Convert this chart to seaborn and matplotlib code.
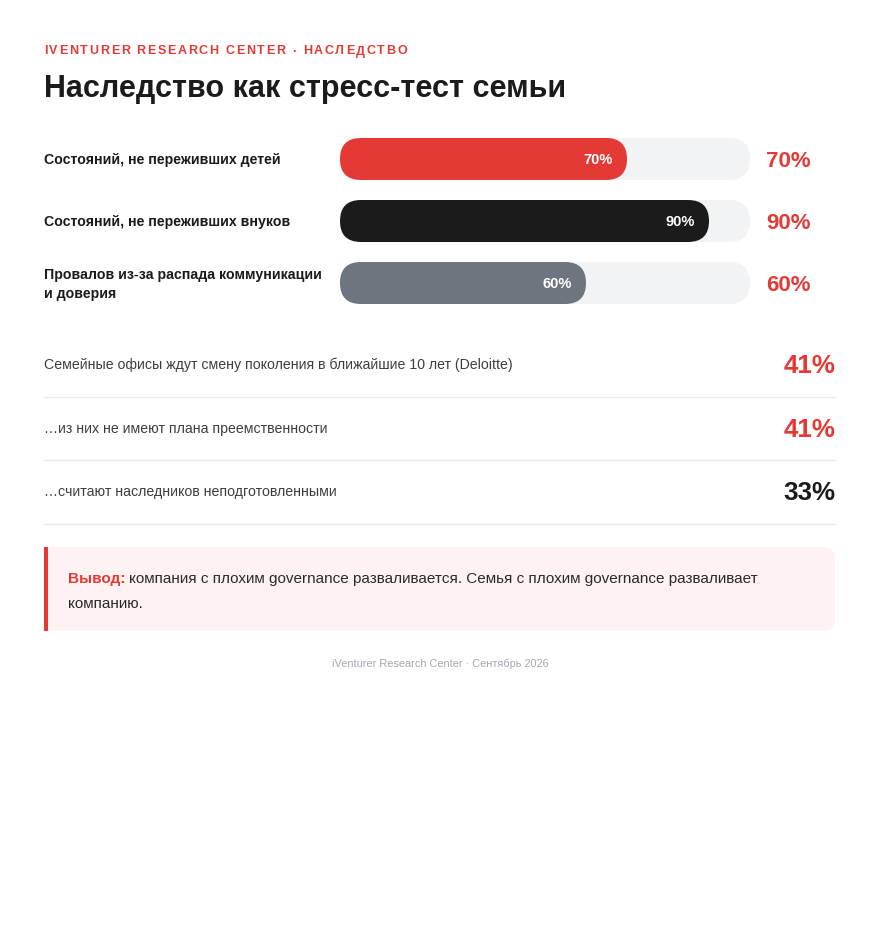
import matplotlib
matplotlib.use("Agg")
import matplotlib.pyplot as plt
import seaborn as sns
import pandas as pd
from matplotlib.patches import FancyBboxPatch, Rectangle

# --- data ---
bar_labels = [
    "Состояний, не переживших детей",
    "Состояний, не переживших внуков",
    "Провалов из-за распада коммуникации\nи доверия",
]
bar_values = [70, 90, 60]
bar_colors = ["#e53935", "#1b1b1b", "#6e757e"]

stat_texts = [
    "Семейные офисы ждут смену поколения в ближайшие 10 лет (Deloitte)",
    "…из них не имеют плана преемственности",
    "…считают наследников неподготовленными",
]
stat_values = ["41%", "41%", "33%"]

RED = "#e53935"
DARK = "#1b1b1b"
TRACK = "#f2f3f5"

sns.set_theme(style="white")
plt.rcParams["font.family"] = ["Liberation Sans", "DejaVu Sans"]

W, H = 880, 940
fig = plt.figure(figsize=(8.8, 9.4), dpi=100)
fig.patch.set_facecolor("white")

# background axes in pixel coordinates (origin top-left)
bg = fig.add_axes([0, 0, 1, 1])
bg.set_xlim(0, W)
bg.set_ylim(H, 0)
bg.axis("off")
renderer = fig.canvas.get_renderer()


def text_width(t):
    bb = t.get_window_extent(renderer)
    return bb.width


# header, with letter spacing for the kicker line
kicker = "IVENTURER RESEARCH CENTER · НАСЛЕДСТВО"
widths = []
for ch in kicker:
    t = bg.text(0, 0, ch, fontsize=9, fontweight="bold")
    widths.append(text_width(t) if ch != " " else 3.5)
    t.remove()
spacing = (363 - sum(widths)) / (len(kicker) - 1)
x = 44
for ch, w in zip(kicker, widths):
    bg.text(x, 54.5, ch, fontsize=9, fontweight="bold", color=RED, va="baseline")
    x += w + spacing

bg.text(44, 97, "Наследство как стресс-тест семьи", fontsize=22,
        fontweight="bold", color=DARK, va="baseline")

# --- bars ---
ax = fig.add_axes([340 / W, 1 - 314 / H, 410 / W, 186 / H])
ax.patch.set_alpha(0)
df = pd.DataFrame({"label": bar_labels, "value": bar_values, "track": [100] * 3})
sns.barplot(data=df, x="track", y="label", color=TRACK, saturation=1,
            width=42 / 62, ax=ax)
sns.barplot(data=df, x="value", y="label", hue="label", palette=bar_colors,
            saturation=1, width=42 / 62, dodge=False, legend=False, ax=ax)
ax.set_xlim(0, 100)
ax.set_ylim(2.5, -0.5)
ax.axis("off")


def to_bg(px, py):
    disp = ax.transData.transform((px, py))
    return bg.transData.inverted().transform(disp)


for i, p in enumerate(ax.patches):
    x0, y0 = to_bg(p.get_x(), p.get_y())
    x1, y1 = to_bg(p.get_x() + p.get_width(), p.get_y() + p.get_height())
    left, top = min(x0, x1), min(y0, y1)
    w, h = abs(x1 - x0), abs(y1 - y0)
    bg.add_patch(FancyBboxPatch((left, top), w, h,
                                boxstyle=f"round,pad=0,rounding_size={h / 2}",
                                facecolor=p.get_facecolor(), edgecolor="none",
                                zorder=1 if i < 3 else 2))
    p.set_visible(False)

for i, (lab, val) in enumerate(zip(bar_labels, bar_values)):
    yc = to_bg(0, i)[1]
    lines = lab.split("\n")
    if len(lines) == 1:
        bg.text(44, yc + 5, lines[0], fontsize=10.2, fontweight="bold",
                color=DARK, va="baseline")
    else:
        bg.text(44, yc - 4, lines[0], fontsize=10.2, fontweight="bold",
                color=DARK, va="baseline")
        bg.text(44, yc + 15, lines[1], fontsize=10.2, fontweight="bold",
                color=DARK, va="baseline")
    xe = to_bg(val, i)[0]
    bg.text(xe - 14, yc + 5, f"{val}%", fontsize=10.5, fontweight="bold",
            color="white", ha="right", va="baseline", zorder=3)
    bg.text(766, yc + 8, f"{val}%", fontsize=16, fontweight="bold",
            color=RED, va="baseline")

# --- stat rows ---
stat_colors = [RED, RED, DARK]
for i, (s, v, c) in enumerate(zip(stat_texts, stat_values, stat_colors)):
    yc = 364 + i * 63.3
    bg.text(44, yc + 5.2, s, fontsize=10.2, color="#3d3d3d", va="baseline")
    bg.text(835, yc + 9.3, v, fontsize=18.7, fontweight="bold", color=c,
            ha="right", va="baseline")
    bg.plot([44, 835], [yc + 33, yc + 33], color="#ececec", lw=1)

# --- conclusion box ---
bg.add_patch(FancyBboxPatch((44, 547), 791, 84,
                            boxstyle="round,pad=0,rounding_size=12",
                            facecolor="#fef2f2", edgecolor="none"))
bg.add_patch(Rectangle((44, 547), 20, 84, facecolor="#fef2f2", edgecolor="none"))
bg.add_patch(Rectangle((44, 547), 3.5, 84, facecolor=RED, edgecolor="none"))
t = bg.text(68, 583.5, "Вывод:", fontsize=11, fontweight="bold", color=RED,
            va="baseline")
bg.text(68 + text_width(t) + 4, 583.5,
        "компания с плохим governance разваливается. Семья с плохим governance разваливает",
        fontsize=11, color="#2a2a2a", va="baseline")
bg.text(68, 608.5, "компанию.", fontsize=11, color="#2a2a2a", va="baseline")

# footer
bg.text(440, 667, "iVenturer Research Center · Сентябрь 2026", fontsize=7.9,
        color="#a3a8b0", ha="center", va="baseline")

fig.savefig("out.png", dpi=100, facecolor="white")
